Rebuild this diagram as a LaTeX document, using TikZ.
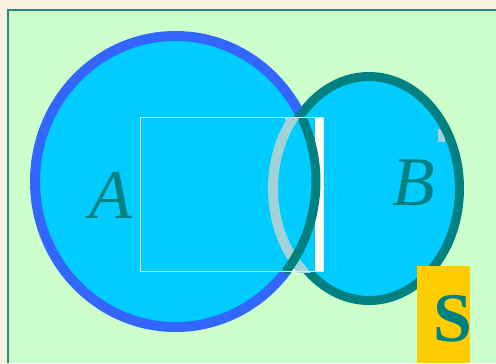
\documentclass[tikz,border=0pt]{standalone}
\usepackage{fontspec}
\setmainfont{Liberation Serif}
\definecolor{cy}{HTML}{00CCFF}
\definecolor{blueA}{HTML}{3366FF}
\definecolor{tl}{HTML}{008080}
\definecolor{bggreen}{HTML}{CCFFCC}
\definecolor{beige}{HTML}{FBF1E1}
\definecolor{gold}{HTML}{FFCC00}
\definecolor{bord}{RGB}{40,140,125}
\definecolor{ghost}{RGB}{160,210,215}
\definecolor{rectline}{RGB}{220,235,235}
\tikzset{
  lbl/.style={text=tl, font=\fontsize{70}{70}\selectfont, inner sep=0pt},
}
\begin{document}
\begin{tikzpicture}[x=1bp,y=-1bp]
\useasboundingbox (0,0) rectangle (496,363);
\fill[beige] (0,0) rectangle (496,363);
\fill[bggreen] (8,10) rectangle (496,363);
\draw[bord, line width=2bp] (7.5,363) -- (7.5,9.5) -- (496,9.5);
% circle A
\filldraw[fill=cy, draw=blueA, line width=10bp] (175.5,181.5) ellipse [x radius=140.5, y radius=145.5];
% circle B
\fill[cy] (369,188.5) ellipse [x radius=90.5, y radius=112];
\fill[ghost] (438,129) rectangle (445,142);
\draw[tl, line width=9bp] (369,188.5) ellipse [x radius=90.5, y radius=112];
% overlay rectangle
\begin{scope}
  \clip (140,117) rectangle (324,272);
  \fill[cy] (140,117) rectangle (324,272);
  \fill[white] (315,117) rectangle (324,272);
  \fill[white] (285,117) -- (298,117) -- (288,126) -- cycle;
  \fill[white] (290,272) -- (310,272) -- (299,259) -- cycle;
  \draw[ghost, line width=10bp] (363.5,188.5) ellipse [x radius=90.5, y radius=112];
\end{scope}
\draw[tl, line width=9bp, line cap=round] (175.5,181.5) ++(-25:140.5 and 145.5) arc[start angle=-25, end angle=37.5, x radius=140.5, y radius=145.5];
\draw[rectline, line width=1bp] (140.5,117.5) rectangle (323.5,271.5);
% labels
\node[lbl, anchor=base] (A) at (111,218) {\itshape A};
\node[lbl, anchor=base] (B) at (413.5,205) {\itshape B};
\fill[gold] (417,266) rectangle (470,363);
\node[lbl, anchor=base] (S) at (453,341) {\bfseries S};
\end{tikzpicture}
\end{document}
